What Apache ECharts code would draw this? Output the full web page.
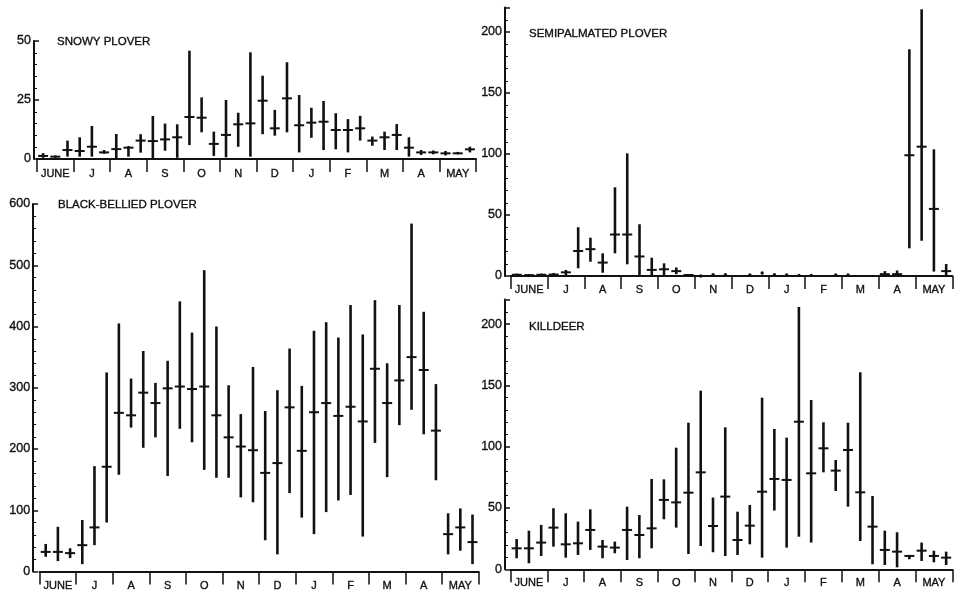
<!DOCTYPE html>
<html>
<head>
<meta charset="utf-8">
<script src="https://cdn.jsdelivr.net/npm/echarts@6/dist/echarts.min.js"></script>
<style>
  html, body { margin: 0; padding: 0; background: #fff; }
  #chart { width: 954px; height: 594px; }
</style>
</head>
<body>
<div id="chart"></div>
<script>
// months on the x axis, three periods in each
const months = ["JUNE", "J", "A", "S", "O", "N", "D", "J", "F", "M", "A", "MAY"];
const periods = [];
months.forEach((m, k) => { for (let j = 1; j <= 3; j++) periods.push(k + "-" + m + "-" + j); });

// snowy plover: low / mean / high per period
const snowyLow  = [0.5, 0.5, 1, 1, 1, 2.2, 0, 1, 2.7, 0.3, 3.5, 0.5, 5.9, 11.3, 1.3, 0.7, 5.2, 1, 10.5, 9.9, 11.3, 2.8, 9, 3.8, 4.1, 2.8, 7.8, 5.6, 3.8, 3.8, 1, 1.7, 2, 1.5, 2, 2.8];
const snowyMean = [1.3, 1, 3.8, 3.4, 5.2, 2.8, 4.2, 4.8, 7.8, 7.6, 8.3, 9.2, 17.8, 17.5, 6.4, 10.2, 14.7, 15.1, 24.7, 13, 25.7, 14.3, 15.4, 15.8, 12.3, 12.3, 13, 7.8, 9.2, 10.2, 4.8, 2.8, 2.8, 2.4, 2.4, 4.1];
const snowyHigh = [2.5, 1.5, 7.8, 9.2, 14, 3.8, 10.6, 5.5, 10.5, 18.2, 15, 14.7, 45.9, 26.1, 11.6, 25, 19.6, 45.2, 35.3, 20.8, 41, 27.1, 21.7, 24.6, 19.4, 16.9, 18.3, 9.5, 11.6, 14.8, 9.2, 3.8, 3.6, 3.4, 3, 5.2];

// black-bellied plover
const blackLow  = [24, 17, 22, 12, 43, 80, 158, 235, 202, 219, 156, 233, 211, 166, 153, 153, 121, 113, 51, 28, 128, 88, 61, 97, 116, 125, 57, 210, 154, 239, 264, 224, 149, 28, 34, 12];
const blackMean = [32, 32, 30, 43, 72, 171, 259, 255, 292, 275, 299, 302, 298, 302, 255, 219, 204, 198, 161, 177, 268, 197, 260, 275, 254, 269, 245, 331, 275, 312, 350, 329, 230, 61, 72, 48];
const blackHigh = [45, 73, 38, 84, 172, 325, 405, 315, 360, 308, 344, 441, 390, 492, 400, 304, 257, 334, 262, 296, 364, 303, 393, 407, 382, 435, 387, 443, 340, 435, 568, 424, 306, 95, 103, 93];

// semipalmated plover (null = no record)
const semiLow  = [0, 0, 0, 0, 0.5, 6.3, 11.7, 2.7, 18.6, 9.6, 0, 0, 0.5, 1.5, 0, 0, 1, 1, null, 0.8, 2.5, 1, 0.8, 0.5, 0.5, null, 0.8, 0.8, null, null, 0, 0, 22.7, 28.9, 3.6, 0];
const semiMean = [1, 0.7, 1, 1.2, 3, 20.5, 22, 11, 34, 34, 16, 5, 5.5, 4, 0.8, 0, 1, 1, null, 0.8, 2.5, 1, 0.8, 0.5, 0.5, null, 0.8, 0.8, null, null, 1.5, 1.5, 99, 106, 55, 4];
const semiHigh = [2, 1.5, 2, 2.5, 5, 40, 31.4, 18.6, 72.7, 100.5, 42.4, 15, 10.4, 7, 1.5, 0, 1, 1, null, 0.8, 2.5, 1, 0.8, 0.5, 0.5, null, 0.8, 0.8, null, null, 4, 4.5, 185.8, 218.6, 103.8, 9.8];

// killdeer
const killLow  = [9, 4.9, 10.9, 18.5, 9.5, 11.7, 15.8, 9, 13.1, 7.6, 9, 17.1, 40.8, 34, 12.5, 19, 13.9, 10.9, 11.7, 20.4, 9.5, 47.9, 17.7, 26.6, 21.8, 79.1, 63.9, 51.1, 23.1, 4.1, 3.5, 1.6, 8.2, 6.8, 5.7, 3.5];
const killMean = [17.1, 17.1, 21.8, 34, 20.4, 21.2, 32.1, 18.5, 17.7, 32.1, 28, 33.4, 56.6, 54.6, 62.5, 79.1, 35.3, 59.3, 23.9, 35.6, 63.3, 73.7, 72.9, 120.4, 78.3, 98.7, 80.5, 97.3, 62.8, 34.8, 15.8, 14.4, 10.9, 15.2, 10.9, 9.5];
const killHigh = [24.7, 31.5, 36.2, 49.8, 45.7, 38.9, 48.9, 23.9, 22.6, 51.1, 44.3, 73.7, 73.4, 99.2, 119.6, 145.7, 58.5, 115.8, 47, 52.5, 140, 114.5, 107.4, 214, 138.1, 119.9, 89.2, 119.6, 160.7, 59.8, 31.5, 30.2, 11.7, 21.8, 15.2, 14.4];

const FONT = '"Liberation Sans", Arial, sans-serif';
const INK = "#111";
// a thin outline in the ink colour makes the lettering a little heavier
const heavy = { textBorderColor: INK, textBorderWidth: 0.35 };

function renderRange(params, api) {
  const x = api.value(0);
  const lo = api.coord([x, api.value(1)]);
  const mid = api.coord([x, api.value(2)]);
  const hi = api.coord([x, api.value(3)]);
  if (api.value(1) === api.value(3)) {
    // single count, drawn as a dot
    return { type: "circle", shape: { cx: mid[0], cy: mid[1], r: 1.7 }, style: { fill: INK } };
  }
  return {
    type: "group",
    children: [
      { type: "line", shape: { x1: lo[0], y1: lo[1], x2: hi[0], y2: hi[1] }, style: { stroke: INK, lineWidth: 2.6 } },
      { type: "line", shape: { x1: mid[0] - 5, y1: mid[1], x2: mid[0] + 5, y2: mid[1] }, style: { stroke: INK, lineWidth: 2 } }
    ]
  };
}

function rangeData(low, mean, high) {
  const out = [];
  mean.forEach((m, i) => { if (m != null) out.push([i, low[i], m, high[i]]); });
  return out;
}

function xAxisFor(grid, offset) {
  return {
    type: "category", gridIndex: grid, data: periods, position: "bottom", offset: offset,
    axisLine: { lineStyle: { color: INK, width: 2 } },
    // month dividers: a tick every third period
    axisTick: { show: true, length: 13, interval: 2, lineStyle: { color: INK, width: 1.5 } },
    axisLabel: Object.assign({
      interval: i => i % 3 === 1, formatter: (v, i) => months[Math.floor(i / 3)],
      margin: 2, fontSize: 11, color: INK, fontFamily: FONT
    }, heavy),
    splitLine: { show: false }
  };
}

function yAxisFor(grid, max, step, offset) {
  return {
    type: "value", gridIndex: grid, min: 0, max: max, interval: step, offset: offset,
    axisLine: { show: true, lineStyle: { color: INK, width: 2 } },
    axisTick: { show: true, inside: true, length: 5, lineStyle: { color: INK, width: 1.5 } },
    minorTick: { show: true, splitNumber: 5, length: 3, lineStyle: { color: INK, width: 1 } },
    axisLabel: Object.assign({
      showMaxLabel: max % step === 0, margin: 3, fontSize: 12.5, color: INK, fontFamily: FONT
    }, heavy),
    splitLine: { show: false }
  };
}

const titleStyle = Object.assign({ fontSize: 11.5, fontWeight: "normal", color: INK, fontFamily: FONT }, heavy);

const option = {
  backgroundColor: "#fff",
  animation: false,
  title: [
    { text: "SNOWY PLOVER", left: 57, top: 36, padding: 0, textStyle: titleStyle },
    { text: "BLACK-BELLIED PLOVER", left: 58, top: 199, padding: 0, textStyle: titleStyle },
    { text: "SEMIPALMATED PLOVER", left: 529, top: 28, padding: 0, textStyle: titleStyle },
    { text: "KILLDEER", left: 529, top: 321, padding: 0, textStyle: titleStyle }
  ],
  grid: [
    { left: 37, top: 41, width: 439, height: 118 },
    { left: 39.6, top: 204, width: 439, height: 367.5 },
    { left: 510.7, top: 7.6, width: 441.6, height: 268.4 },
    { left: 510.5, top: 299.6, width: 441.8, height: 269.7 }
  ],
  xAxis: [xAxisFor(0, 7), xAxisFor(1, 6.5), xAxisFor(2, 6.7), xAxisFor(3, 5.7)],
  yAxis: [yAxisFor(0, 50, 25, 3), yAxisFor(1, 600, 100, 6.5), yAxisFor(2, 220, 50, 5.7), yAxisFor(3, 220, 50, 5.5)],
  series: [
    [snowyLow, snowyMean, snowyHigh],
    [blackLow, blackMean, blackHigh],
    [semiLow, semiMean, semiHigh],
    [killLow, killMean, killHigh]
  ].map((s, k) => ({
    type: "custom", xAxisIndex: k, yAxisIndex: k,
    renderItem: renderRange,
    encode: { x: 0, y: [1, 2, 3] },
    data: rangeData(s[0], s[1], s[2])
  }))
};

const chart = echarts.init(document.getElementById("chart"));
chart.setOption(option);
</script>
</body>
</html>
